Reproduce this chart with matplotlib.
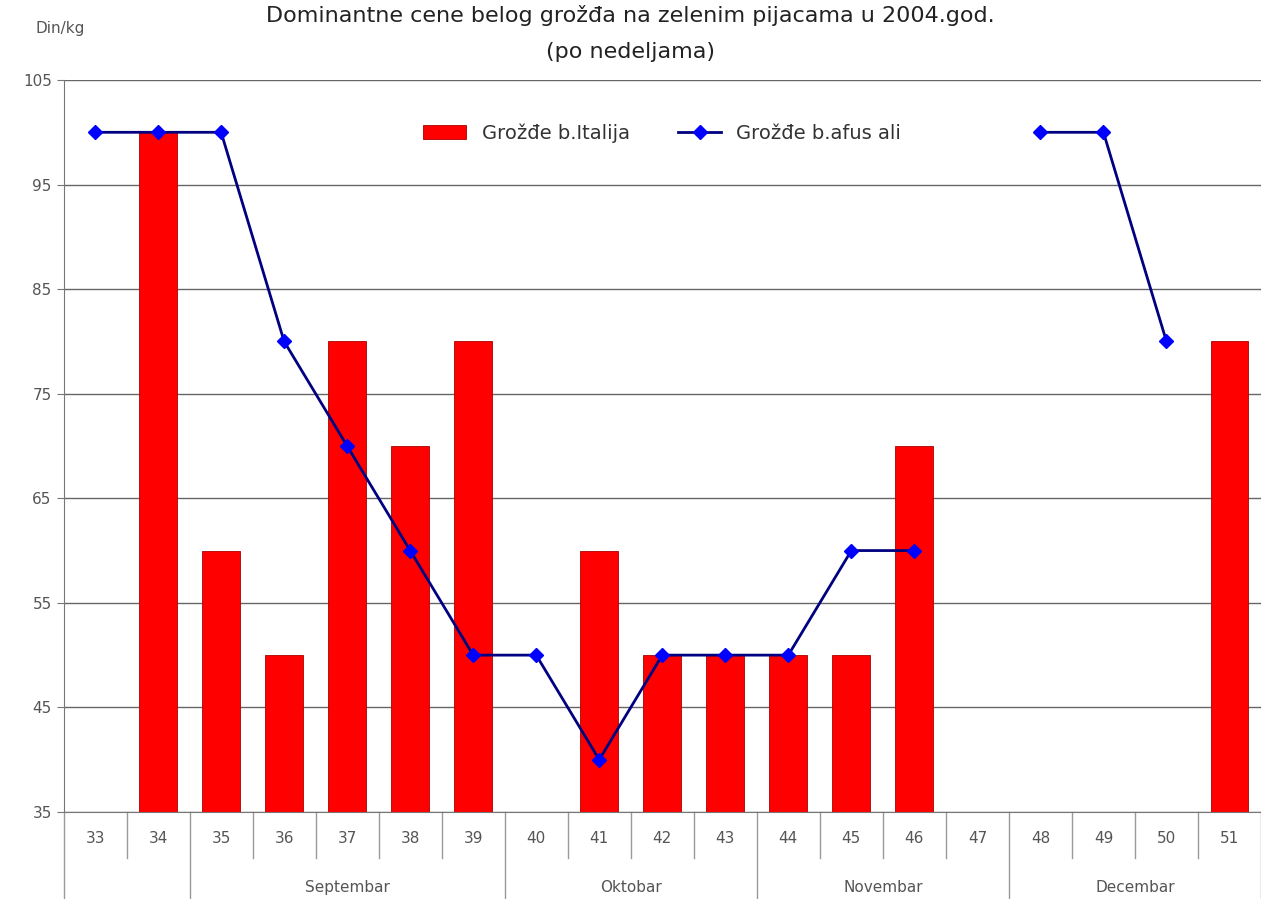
import numpy as np
import matplotlib.pyplot as plt
import matplotlib.transforms as mtransforms

# podaci po nedeljama
weeks = list(range(33, 52))
italija = [np.nan, 100, 60, 50, 80, 70, 80, np.nan, 60, 50, 50, 50, 50, 70,
           np.nan, np.nan, np.nan, np.nan, 80]
afus_ali = [100, 100, 100, 80, 70, 60, 50, 50, 40, 50, 50, 50, 60, 60,
            np.nan, 100, 100, 80, np.nan]
months = ["", "Septembar", "Oktobar", "Novembar", "Decembar"]
month_bounds = [(33, 34), (35, 39), (40, 43), (44, 47), (48, 51)]

plt.rcParams['font.family'] = ['DejaVu Sans']
txt_col = "#555555"

fig = plt.figure(figsize=(12.61, 8.99), dpi=100)
ax = fig.add_axes([0.0504, 0.0968, 0.9496, 0.8142])

x = np.arange(len(weeks))
bars = ax.bar(x, italija, width=0.6, color="#FF0000", edgecolor="#AA0000",
              linewidth=0.6, label="Grožđe b.Italija", zorder=2)
line, = ax.plot(x, afus_ali, color="#000080", linewidth=2, marker="D",
                markersize=7, markerfacecolor="#0000FF", markeredgecolor="#0000FF",
                label="Grožđe b.afus ali", zorder=3)

ax.set_xlim(-0.5, len(weeks) - 0.5)
ax.set_ylim(35, 105)
ax.set_yticks(range(35, 106, 10))
ax.yaxis.grid(True, color="#666666", linewidth=1)
ax.set_axisbelow(True)
for s in ["top", "right"]:
    ax.spines[s].set_visible(False)
ax.spines["left"].set_color("#777777")
ax.spines["bottom"].set_color("#777777")
ax.tick_params(axis="y", colors=txt_col, labelsize=11, length=5, color="#777777")

ax.set_xticks(x)
ax.set_xticklabels([str(w) for w in weeks], color=txt_col, fontsize=11)
ax.tick_params(axis="x", length=0, pad=14)

# pregrade ispod ose: duze na granicama meseci
trans = mtransforms.blended_transform_factory(ax.transData, ax.transAxes)
starts = [weeks.index(b[0]) for b in month_bounds] + [len(weeks)]
for i in range(len(weeks) + 1):
    y0 = -0.12 if i in starts else -0.063
    ax.plot([i - 0.5, i - 0.5], [0, y0], color="#999999", linewidth=1,
            transform=trans, clip_on=False)
for name, (a, b) in zip(months, month_bounds):
    xc = (weeks.index(a) + weeks.index(b)) / 2
    ax.text(xc, -0.103, name, transform=trans, ha="center", va="center",
            fontsize=11, color=txt_col)

leg = ax.legend([bars, line], ["Grožđe b.Italija", "Grožđe b.afus ali"],
                loc="upper center", bbox_to_anchor=(0.5, 0.965), ncol=2,
                frameon=False, fontsize=14, handlelength=2.2, columnspacing=2.5)
for t in leg.get_texts():
    t.set_color("#333333")

fig.text(0.5, 0.983, "Dominantne cene belog grožđa na zelenim pijacama u 2004.god.",
         ha="center", va="center", fontsize=16, color="#222222")
fig.text(0.5, 0.942, "(po nedeljama)", ha="center", va="center",
         fontsize=16, color="#222222")
fig.text(0.048, 0.968, "Din/kg", ha="center", va="center", fontsize=11,
         color=txt_col)

fig.savefig("out.png", dpi=100)
